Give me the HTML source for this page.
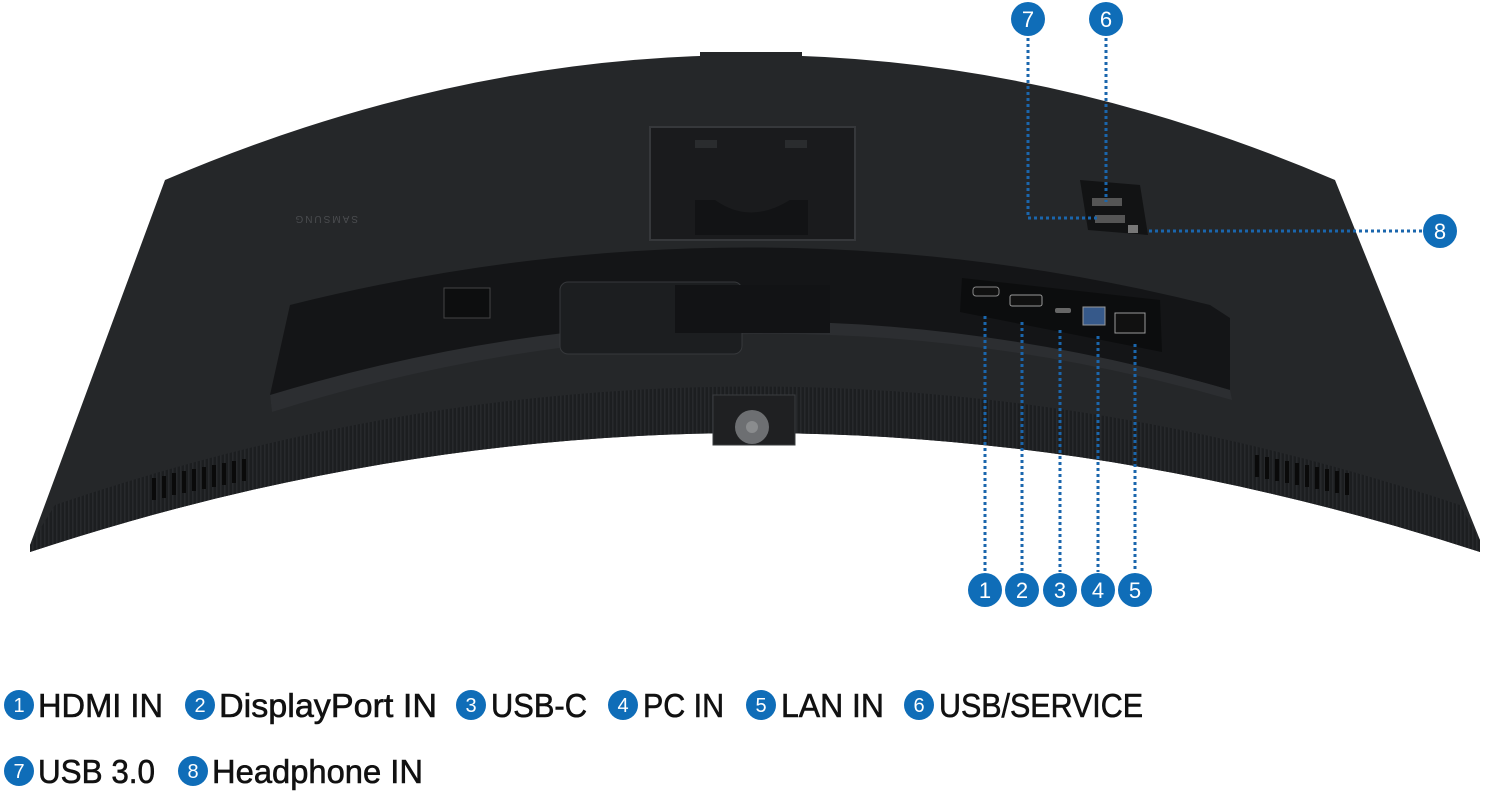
<!DOCTYPE html>
<html><head><meta charset="utf-8"><style>
html,body{margin:0;padding:0;background:#fff;width:1500px;height:794px;overflow:hidden}
svg{display:block}
</style></head><body>
<svg width="1500" height="794" viewBox="0 0 1500 794" xmlns="http://www.w3.org/2000/svg" font-family="Liberation Sans, sans-serif">
<defs>
<pattern id="rib" width="4" height="4" patternUnits="userSpaceOnUse"><rect width="4" height="4" fill="#1c1e20"/><rect width="1.5" height="4" fill="#27292c"/></pattern>
</defs>
<rect x="700" y="52" width="102" height="10" fill="#242628"/>
<path d="M165,180 Q750,-70 1335,180 L1480,540 L1480,552 Q750,314 30,552 L30,545 Z" fill="#252729"/>
<path d="M55,505 Q750,268 1460,505 L1480,540 L1480,552 Q750,314 30,552 L30,545 Z" fill="url(#rib)"/>
<path d="M290,305 Q750,190 1210,305 L1230,318 L1230,390 Q750,250 272,410 L270,395 Z" fill="#141517"/>
<path d="M270,395 Q750,250 1230,390 L1232,400 Q750,262 272,412 Z" fill="#2c2e31"/>
<rect x="650" y="127" width="205" height="113" fill="#1a1b1d" stroke="#36383b" stroke-width="2"/>
<rect x="695" y="140" width="22" height="8" fill="#2a2c2e"/><rect x="785" y="140" width="22" height="8" fill="#2a2c2e"/>
<path d="M695,200 L715,200 Q750,225 790,200 L808,200 L808,235 L695,235 Z" fill="#121315"/>
<rect x="560" y="282" width="182" height="72" rx="8" fill="#1c1e20" stroke="#36383b"/>
<rect x="675" y="285" width="155" height="48" fill="#121315"/>
<rect x="444" y="288" width="46" height="30" fill="#0d0e0f" stroke="#444" stroke-width="1"/>
<path d="M962,278 L1160,300 L1162,352 L960,312 Z" fill="#0c0d0e"/>
<rect x="973" y="287" width="26" height="9" rx="3" fill="#111" stroke="#888"/>
<rect x="1010" y="295" width="32" height="11" rx="2" fill="#111" stroke="#999"/>
<rect x="1055" y="308" width="16" height="5" rx="2" fill="#666"/>
<rect x="1083" y="307" width="22" height="18" fill="#36598a" stroke="#999"/>
<rect x="1115" y="313" width="30" height="20" fill="#111" stroke="#999"/>
<path d="M1080,180 L1140,185 L1148,235 L1088,230 Z" fill="#121314"/>
<rect x="1092" y="198" width="30" height="8" fill="#555"/><rect x="1095" y="215" width="30" height="8" fill="#555"/>
<rect x="1128" y="225" width="10" height="8" fill="#777"/>
<rect x="713" y="395" width="82" height="50" fill="#1f2022" stroke="#3a3c3f"/>
<circle cx="752" cy="427" r="17" fill="#6d6f72"/><circle cx="752" cy="427" r="6" fill="#8a8c8e"/>
<g fill="#0a0a0a">
<rect x="152" y="478" width="4" height="22"/><rect x="162" y="476" width="4" height="22"/><rect x="172" y="473" width="4" height="22"/><rect x="182" y="471" width="4" height="22"/><rect x="192" y="469" width="4" height="22"/><rect x="202" y="467" width="4" height="22"/><rect x="212" y="465" width="4" height="22"/><rect x="222" y="463" width="4" height="22"/><rect x="232" y="461" width="4" height="22"/><rect x="242" y="459" width="4" height="22"/>
<rect x="1255" y="455" width="4" height="22"/><rect x="1265" y="457" width="4" height="22"/><rect x="1275" y="459" width="4" height="22"/><rect x="1285" y="461" width="4" height="22"/><rect x="1295" y="463" width="4" height="22"/><rect x="1305" y="465" width="4" height="22"/><rect x="1315" y="467" width="4" height="22"/><rect x="1325" y="469" width="4" height="22"/><rect x="1335" y="471" width="4" height="22"/><rect x="1345" y="473" width="4" height="22"/>
</g>
<text x="358" y="224" font-size="10" fill="#4a4c4f" letter-spacing="2" transform="rotate(180 358 220)">SAMSUNG</text>
<g stroke="#1a66ad" stroke-width="3" stroke-dasharray="3,3" fill="none">
<path d="M1028,38 L1028,218 L1098,218"/>
<path d="M1106,38 L1106,202"/>
<path d="M1422,231 L1148,231"/>
<path d="M985,316 L985,572"/>
<path d="M1022,322 L1022,572"/>
<path d="M1060,330 L1060,572"/>
<path d="M1098,336 L1098,572"/>
<path d="M1135,344 L1135,572"/>
</g>
<g fill="#0f6db8">
<circle cx="1028" cy="19" r="17"/><circle cx="1106" cy="19" r="17"/><circle cx="1440" cy="231" r="17"/>
<circle cx="985" cy="590" r="17"/><circle cx="1022" cy="590" r="17"/><circle cx="1060" cy="590" r="17"/><circle cx="1098" cy="590" r="17"/><circle cx="1135" cy="590" r="17"/>
</g>
<g fill="#fff" font-size="22" text-anchor="middle">
<text x="1028" y="27">7</text><text x="1106" y="27">6</text><text x="1440" y="239">8</text>
<text x="985" y="598">1</text><text x="1022" y="598">2</text><text x="1060" y="598">3</text><text x="1098" y="598">4</text><text x="1135" y="598">5</text>
</g>
<g fill="#0f6db8">
<circle cx="19" cy="705" r="15"/><circle cx="200" cy="705" r="15"/><circle cx="471" cy="705" r="15"/><circle cx="623" cy="705" r="15"/><circle cx="761" cy="705" r="15"/><circle cx="919" cy="705" r="15"/>
<circle cx="19" cy="771" r="15"/><circle cx="193" cy="771" r="15"/>
</g>
<g fill="#fff" font-size="20" text-anchor="middle">
<text x="19" y="712">1</text><text x="200" y="712">2</text><text x="471" y="712">3</text><text x="623" y="712">4</text><text x="761" y="712">5</text><text x="919" y="712">6</text>
<text x="19" y="778">7</text><text x="193" y="778">8</text>
</g>
<g fill="#111" font-size="33" stroke="#111" stroke-width="0.6">
<text x="38" y="717" textLength="125" lengthAdjust="spacingAndGlyphs">HDMI IN</text>
<text x="219" y="717" textLength="218" lengthAdjust="spacingAndGlyphs">DisplayPort IN</text>
<text x="491" y="717" textLength="96" lengthAdjust="spacingAndGlyphs">USB-C</text>
<text x="643" y="717" textLength="81" lengthAdjust="spacingAndGlyphs">PC IN</text>
<text x="781" y="717" textLength="103" lengthAdjust="spacingAndGlyphs">LAN IN</text>
<text x="939" y="717" textLength="204" lengthAdjust="spacingAndGlyphs">USB/SERVICE</text>
<text x="38" y="783" textLength="117" lengthAdjust="spacingAndGlyphs">USB 3.0</text>
<text x="212" y="783" textLength="211" lengthAdjust="spacingAndGlyphs">Headphone IN</text>
</g>
</svg>
</body></html>
